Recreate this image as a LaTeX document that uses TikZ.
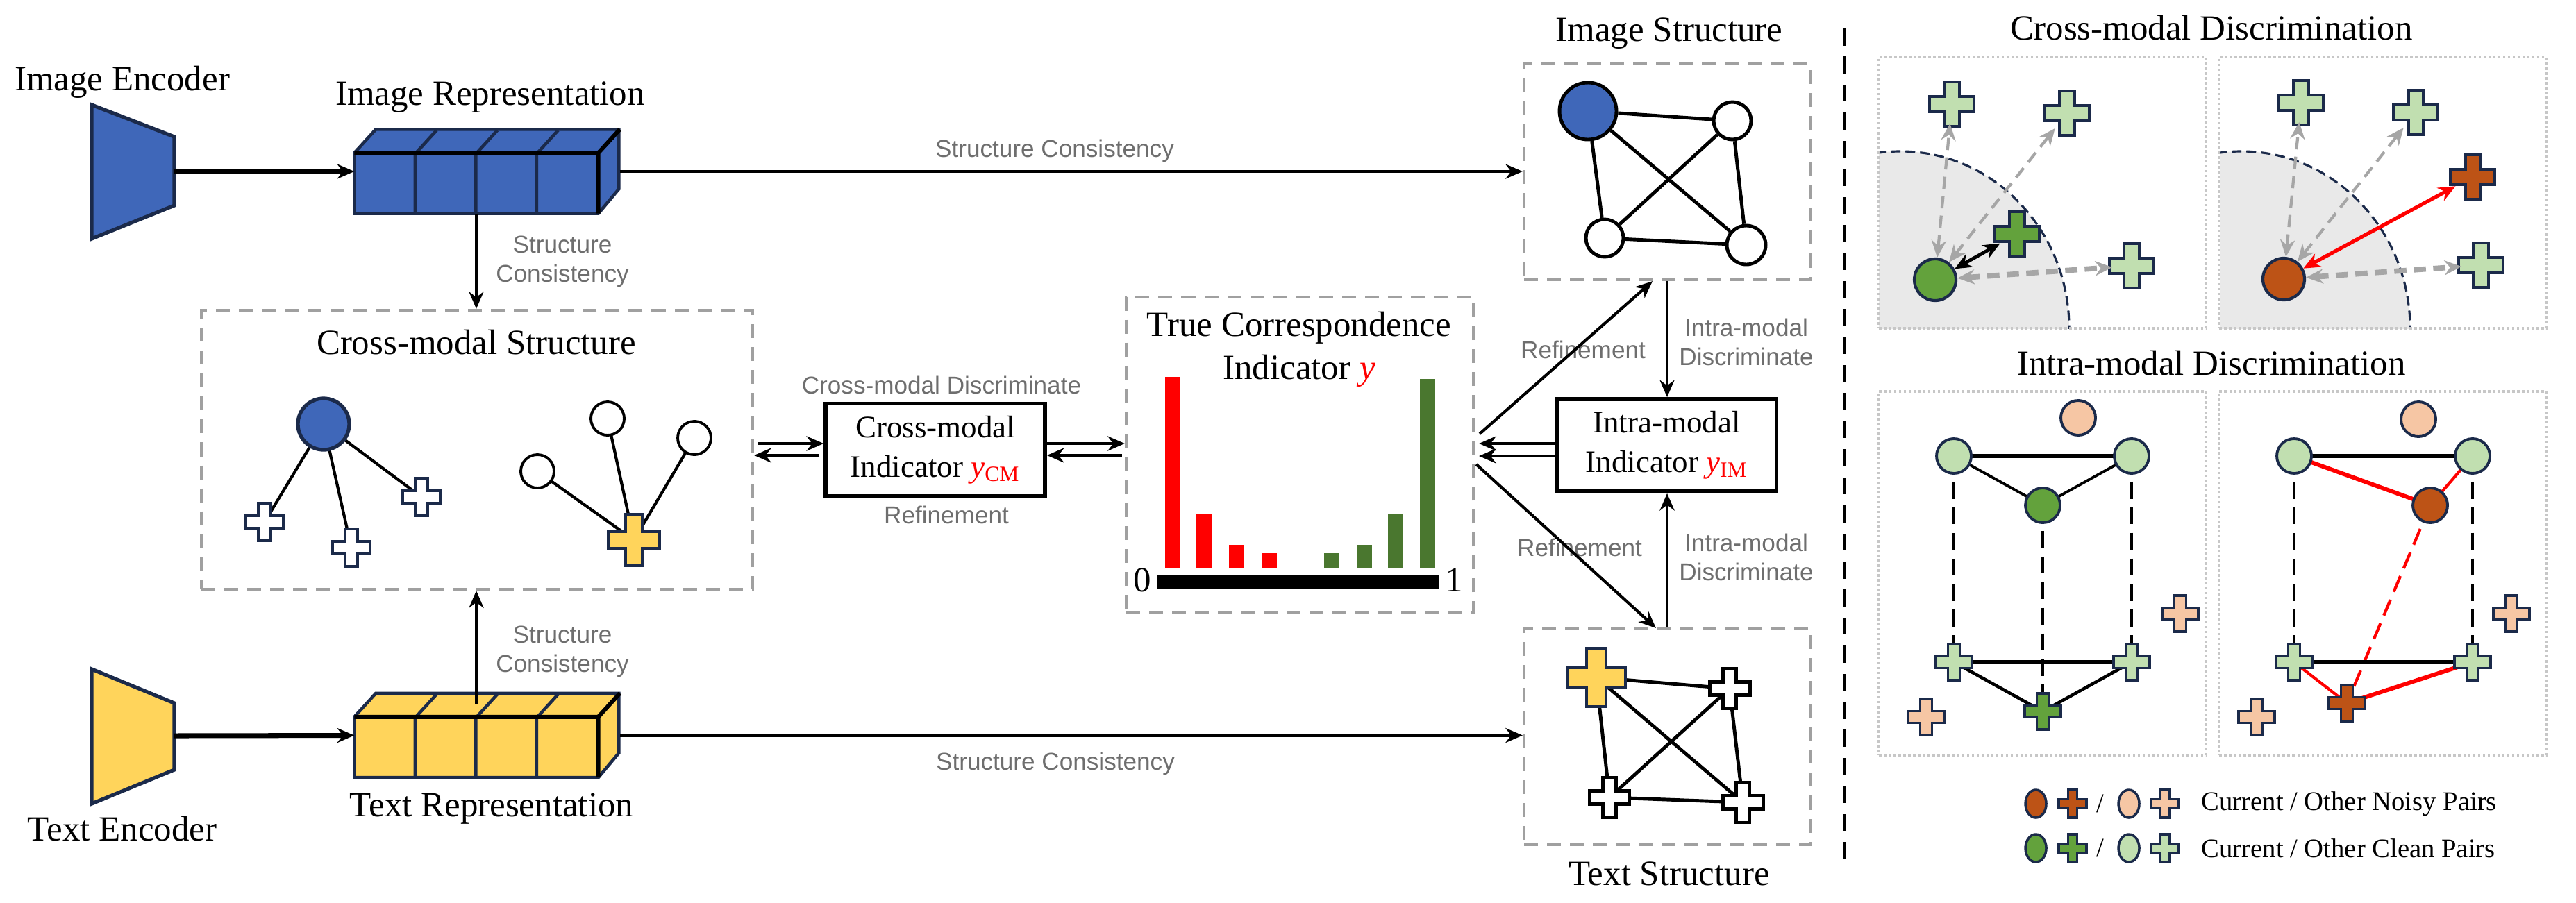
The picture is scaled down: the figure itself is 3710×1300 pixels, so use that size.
\documentclass[tikz,border=0pt]{standalone}
\usepackage{fontspec}
\setmainfont{Liberation Serif}
\newfontfamily\arialfont{Liberation Sans}
\usetikzlibrary{arrows.meta}
\usetikzlibrary{calc,positioning}
\usetikzlibrary{shapes.geometric}

\definecolor{navy}{HTML}{1B2A4A}
\definecolor{imgblue}{HTML}{3F67B9}
\definecolor{txtyellow}{HTML}{FFD45B}
\definecolor{barred}{HTML}{FF0000}
\definecolor{bargreen}{HTML}{4A772F}
\definecolor{cleandark}{HTML}{63A23C}
\definecolor{cleanlight}{HTML}{C1DFB0}
\definecolor{noisydark}{HTML}{BD5316}
\definecolor{noisylight}{HTML}{F6C6A4}
\definecolor{labelgray}{HTML}{6E6E6E}
\definecolor{boxgray}{HTML}{A0A0A0}
\definecolor{shade}{HTML}{E9E9E9}

\pgfdeclarelayer{background}
\pgfsetlayers{background,main}

\tikzset{
    title/.style={font=\fontsize{14.5}{17.6}\selectfont, align=center},
    note/.style={font=\arialfont\fontsize{10}{12}\selectfont, text=labelgray, align=center},
    dashbox/.style={draw=boxgray, line width=1.2pt, dash pattern=on 5.7pt off 3.7pt, inner sep=0pt},
    indbox/.style={draw, line width=1.6pt, minimum width=3.16cm, minimum height=1.33cm, align=center, font=\fontsize{12.8}{16.2}\selectfont},
    panel/.style={draw=black!22, line width=1.1pt, dash pattern=on 1pt off 1pt, inner sep=0pt},
    vtx/.style={circle, draw=navy, line width=1.1pt, inner sep=0pt},
    link/.style={line width=1.2pt},
    flow/.style={->, line width=1.2pt},
    vdash/.style={line width=1.2pt, dash pattern=on 7pt off 3.5pt},
    simarrow/.style={<->, draw=black!35, line width=1.2pt, dash pattern=on 5pt off 3pt},
    legend/.style={font=\fontsize{11}{13}\selectfont, inner sep=0pt, anchor=west}
}

% plus marker: name, position, size, fill, extra options
\newcommand{\plusmark}[5]{%
    \filldraw[fill=#4, draw=navy, line width=1pt, #5, shift={(#2)}, scale=#3]
        (-1/6,-1/2) -- (1/6,-1/2) -- (1/6,-1/6) -- (1/2,-1/6) -- (1/2,1/6) -- (1/6,1/6)
        -- (1/6,1/2) -- (-1/6,1/2) -- (-1/6,1/6) -- (-1/2,1/6) -- (-1/2,-1/6) -- (-1/6,-1/6) -- cycle;
    \node[circle, inner sep=0pt, minimum size=#3*0.085mm] (#1) at (#2) {};
}

% feature vector block: name, front face centre, fill
\newcommand{\featblock}[3]{%
    \node[minimum width=3.5cm, minimum height=0.86cm, inner sep=0pt] (#1) at (#2) {};
    \filldraw[fill=#3, draw=navy, line width=1.3pt]
        (#1.south west) -- (#1.north west) -- ++(31,-34) -- ++(350,0) -- ++(0,86) -- (#1.south east) -- cycle;
    \foreach \i in {1,2,3}
        \draw[navy, line width=1.3pt] ($(#1.south west)+(87.5*\i,0)$) -- ++(0,-86) -- ++(31,-34);
    \draw[line width=1.7pt] (#1.north west) -- (#1.north east) -- ++(31,-34) (#1.north east) -- (#1.south east);
    \coordinate (#1in) at ($(#1.west)+(0,-17)$);
    \coordinate (#1out) at ($(#1.east)+(31,-17)$);
}

\begin{document}
\begin{tikzpicture}[>={Stealth[length=7pt,width=6pt]}, x=0.1mm, y=-0.1mm]

    \useasboundingbox (0,0) rectangle (3710,1300);

    % encoders
    \filldraw[fill=imgblue, draw=navy, line width=1.5pt] (132,151) -- (251,197) -- (251,296) -- (132,344) -- cycle;
    \coordinate (imgenc) at (251,247);
    \filldraw[fill=txtyellow, draw=navy, line width=1.5pt] (132,964) -- (251,1013) -- (251,1109) -- (132,1158) -- cycle;
    \coordinate (txtenc) at (251,1060);
    \node[title] (imgenclbl) at (176,118) {Image Encoder};
    \node[title] (txtenclbl) at (176,1194) {Text Encoder};

    % representations
    \featblock{imgvec}{686,264}{imgblue}
    \featblock{txtvec}{686,1076.5}{txtyellow}
    \node[title] (imgveclbl) at (706,140) {Image Representation};
    \node[title] (txtveclbl) at (708,1165) {Text Representation};
    \draw[->, line width=2pt] (imgenc) -- (imgvecin);
    \draw[->, line width=2pt] (txtenc) -- (txtvecin);

    % cross-modal structure
    \node[dashbox, minimum width=7.94cm, minimum height=4.02cm] (crossstruct) at (687,648) {};
    \node[title] (crosslbl) at (686,493) {Cross-modal Structure};
    \draw[flow] (imgvec.south) -- (imgvec.south |- crossstruct.north);
    \draw[flow] ($(txtvec.north)+(0,-18)$) -- (txtvec.north |- crossstruct.south);
    \node[note] (sc1) at (810,377) {Structure\\Consistency};
    \node[note] (sc2) at (810,939) {Structure\\Consistency};

    \node[vtx, fill=imgblue, line width=1.5pt, minimum size=7.4mm] (cb) at (466,611) {};
    \plusmark{cp1}{381,752}{54}{white}{}
    \plusmark{cp2}{506,789}{54}{white}{}
    \plusmark{cp3}{607,716}{54}{white}{}
    \node[vtx, draw=black, fill=white, minimum size=4.8mm] (cw1) at (875,603) {};
    \node[vtx, draw=black, fill=white, minimum size=4.8mm] (cw2) at (1000,631) {};
    \node[vtx, draw=black, fill=white, minimum size=4.8mm] (cw3) at (774,679) {};
    \plusmark{cy}{913,778}{74}{txtyellow}{line width=1.2pt}
    \begin{pgfonlayer}{background}
        \draw[link] (cb.center) -- (cp1.center) (cb.center) -- (cp2.center) (cb.center) -- (cp3.center);
        \draw[link] (cw1.center) -- (cy.center) (cw2.center) -- (cy.center) (cw3.center) -- (cy.center);
    \end{pgfonlayer}

    % cross-modal indicator
    \node[indbox] (cmind) at (1347,648) {Cross-modal\\Indicator \textcolor{red}{\textit{y}\textsubscript{CM}}};
    \node[note] (cmdisc) at (1356,555) {Cross-modal Discriminate};
    \node[note] (cmref) at (1363,742) {Refinement};

    % true correspondence indicator
    \node[dashbox, minimum width=5cm, minimum height=4.54cm] (truecorr) at (1872,655) {};
    \node[title] (truelbl) at (1871,503) {True Correspondence\\Indicator \textcolor{red}{\textit{y}}};
    \foreach \x/\t in {1678/543, 1723/741, 1770/785, 1817/797}
        \fill[barred] (\x,\t) rectangle (\x+22,818);
    \foreach \x/\t in {1907/797, 1954/785, 1999/741, 2045/546}
        \fill[bargreen] (\x,\t) rectangle (\x+22,818);
    \fill (1666,828) rectangle (2073,848);
    \node[title] (zero) at (1645,836) {0};
    \node[title] (one) at (2094,836) {1};

    \draw[flow] ($(crossstruct.east)+(6,-9)$) -- ($(cmind.west)+(0,-9)$);
    \draw[flow] ($(cmind.west)+(-6,8)$) -- ($(crossstruct.east)+(0,8)$);
    \draw[flow] ($(cmind.east)+(0,-9)$) -- ($(truecorr.west |- cmind.east)+(0,-9)$);
    \draw[flow] ($(truecorr.west |- cmind.east)+(-4,8)$) -- ($(cmind.east)+(0,8)$);

    % image / text structure
    \node[dashbox, minimum width=4.12cm, minimum height=3.11cm] (imgstruct) at (2401,247.5) {};
    \node[dashbox, minimum width=4.12cm, minimum height=3.12cm] (txtstruct) at (2401,1061) {};
    \node[title] (imgstructlbl) at (2404,48) {Image Structure};
    \node[title] (txtstructlbl) at (2404,1259) {Text Structure};
    \draw[flow] (imgvecout) -- (imgstruct.west |- imgvecout);
    \draw[flow] (txtvecout) -- (txtstruct.west |- txtvecout);
    \node[note] (sc3) at (1519,217) {Structure Consistency};
    \node[note] (sc4) at (1520,1100) {Structure Consistency};

    \node[vtx, draw=black, line width=1.4pt, fill=imgblue, minimum size=8.2mm] (ia) at (2287,160) {};
    \node[vtx, draw=black, line width=1.4pt, fill=white, minimum size=5.4mm] (ib) at (2495,174) {};
    \node[vtx, draw=black, line width=1.4pt, fill=white, minimum size=5.4mm] (ic) at (2311,343) {};
    \node[vtx, draw=black, line width=1.4pt, fill=white, minimum size=5.6mm] (id) at (2515,353) {};
    \draw[link, line width=1.4pt] (ia) -- (ib) (ia) -- (ic) (ia) -- (id) (ib) -- (ic) (ib) -- (id) (ic) -- (id);

    \plusmark{ta}{2299,976}{84}{txtyellow}{line width=1.3pt}
    \plusmark{tb}{2491,992}{58}{white}{draw=black, line width=1.4pt}
    \plusmark{tc}{2318,1149}{58}{white}{draw=black, line width=1.4pt}
    \plusmark{td}{2510,1156}{58}{white}{draw=black, line width=1.4pt}
    \begin{pgfonlayer}{background}
        \draw[link, line width=1.4pt] (ta.center) -- (tb.center) (ta.center) -- (tc.center) (ta.center) -- (td.center)
            (tb.center) -- (tc.center) (tb.center) -- (td.center) (tc.center) -- (td.center);
    \end{pgfonlayer}

    % intra-modal indicator
    \node[indbox] (imind) at (2400.5,641.5) {Intra-modal\\Indicator \textcolor{red}{\textit{y}\textsubscript{IM}}};
    \draw[flow] (imgstruct.south) -- (imgstruct.south |- imind.north);
    \draw[flow] (txtstruct.north) -- (txtstruct.north |- imind.south);
    \node[note] (imdisc1) at (2515,493) {Intra-modal\\Discriminate};
    \node[note] (imdisc2) at (2515,803) {Intra-modal\\Discriminate};
    \node[note] (imref1) at (2280,504) {Refinement};
    \node[note] (imref2) at (2275,789) {Refinement};
    \draw[flow] ($(truecorr.east)+(7,-30)$) -- ($(imgstruct.south)+(-21,0)$);
    \draw[flow] ($(truecorr.east)+(2,14)$) -- ($(txtstruct.north)+(-16,2)$);
    \draw[flow] ($(imind.west)+(0,-2.5)$) -- ($(truecorr.east |- imind.west)+(6,-2.5)$);
    \draw[flow] ($(imind.west)+(0,15.5)$) -- ($(truecorr.east |- imind.west)+(6,15.5)$);

    % separator
    \draw[line width=1.1pt, dash pattern=on 7pt off 4.5pt] (2657,41) -- (2657,1253);

    % cross-modal discrimination
    \node[title] (cdlbl) at (3185,40) {Cross-modal Discrimination};
    \foreach \cx in {2737,3228} {
        \begin{scope}
            \clip (\cx-31,82) rectangle (\cx+440,473);
            \filldraw[fill=shade, draw=navy, line width=0.9pt, dash pattern=on 4pt off 2pt]
                (\cx,473) ellipse [x radius=243, y radius=255];
        \end{scope}
    }
    \node[panel, minimum width=4.71cm, minimum height=3.91cm] (cdl) at (2941.5,277.5) {};
    \node[panel, minimum width=4.71cm, minimum height=3.91cm] (cdr) at (3431.5,277.5) {};

    \node[vtx, fill=cleandark, line width=1.2pt, minimum size=6mm] (cg) at (2787,403) {};
    \plusmark{cgp}{2905,337}{64}{cleandark}{line width=1.2pt}
    \plusmark{cl1}{2811,150}{64}{cleanlight}{line width=1.2pt}
    \plusmark{cl2}{2977,163}{64}{cleanlight}{line width=1.2pt}
    \plusmark{cl3}{3070,383}{64}{cleanlight}{line width=1.2pt}
    \draw[simarrow] (cg) -- (cl1);
    \draw[simarrow] (cg) -- (cl2);
    \draw[simarrow, line width=2.2pt] (cg) -- (cl3);
    \draw[<->, line width=1.4pt] (cg) -- (cgp);

    \node[vtx, fill=noisydark, line width=1.2pt, minimum size=6mm] (cn) at (3289,402) {};
    \plusmark{cnp}{3561,255}{64}{noisydark}{line width=1.2pt}
    \plusmark{cm1}{3314,148}{64}{cleanlight}{line width=1.2pt}
    \plusmark{cm2}{3479,162}{64}{cleanlight}{line width=1.2pt}
    \plusmark{cm3}{3573,382}{64}{cleanlight}{line width=1.2pt}
    \draw[simarrow] (cn) -- (cm1);
    \draw[simarrow] (cn) -- (cm2);
    \draw[simarrow, line width=2.2pt] (cn) -- (cm3);
    \draw[<->, red, line width=1.5pt] (cn) -- (cnp);

    % intra-modal discrimination
    \node[title] (idlbl) at (3185,523) {Intra-modal Discrimination};
    \node[panel, minimum width=4.71cm, minimum height=5.24cm] (idl) at (2941.5,826) {};
    \node[panel, minimum width=4.71cm, minimum height=5.24cm] (idr) at (3431.5,826) {};

    \node[vtx, fill=noisylight, minimum size=5mm] (ila) at (2993,602) {};
    \node[vtx, fill=cleanlight, minimum size=5mm] (ilb) at (2814,657) {};
    \node[vtx, fill=cleanlight, minimum size=5mm] (ilc) at (3070,657) {};
    \node[vtx, fill=cleandark, minimum size=5mm] (ild) at (2942,728) {};
    \plusmark{ilp1}{2814,954}{52}{cleanlight}{}
    \plusmark{ilp2}{3070,954}{52}{cleanlight}{}
    \plusmark{ilp3}{2942,1025}{52}{cleandark}{}
    \plusmark{ilq1}{3140,884}{52}{noisylight}{}
    \plusmark{ilq2}{2774,1033}{52}{noisylight}{}
    \begin{pgfonlayer}{background}
        \draw[line width=1.7pt] (ilb.center) -- (ilc.center);
        \draw[line width=1.1pt] (ilb.center) -- (ild.center) -- (ilc.center);
        \draw[vdash] (ilb.center) -- (ilp1.center) (ild.center) -- (ilp3.center) (ilc.center) -- (ilp2.center);
        \draw[line width=1.7pt] (ilp1.center) -- (ilp2.center);
        \draw[line width=1.3pt] (ilp1.center) -- (ilp3.center) -- (ilp2.center);
    \end{pgfonlayer}

    \node[vtx, fill=noisylight, minimum size=5mm] (ira) at (3483,604) {};
    \node[vtx, fill=cleanlight, minimum size=5mm] (irb) at (3304,657) {};
    \node[vtx, fill=cleanlight, minimum size=5mm] (irc) at (3561,657) {};
    \node[vtx, fill=noisydark, minimum size=5mm] (ird) at (3500,728) {};
    \plusmark{irp1}{3304,954}{52}{cleanlight}{}
    \plusmark{irp2}{3561,954}{52}{cleanlight}{}
    \plusmark{irp3}{3380,1013}{52}{noisydark}{}
    \plusmark{irq1}{3617,884}{52}{noisylight}{}
    \plusmark{irq2}{3250,1033}{52}{noisylight}{}
    \begin{pgfonlayer}{background}
        \draw[line width=1.7pt] (irb.center) -- (irc.center);
        \draw[red, line width=1.7pt] (irb.center) -- (ird.center);
        \draw[red, line width=1.2pt] (irc.center) -- (ird.center);
        \draw[vdash] (irb.center) -- (irp1.center) (irc.center) -- (irp2.center);
        \draw[vdash, red] (ird.center) -- (irp3.center);
        \draw[line width=1.7pt] (irp1.center) -- (irp2.center);
        \draw[red, line width=1.2pt] (irp1.center) -- (irp3.center);
        \draw[red, line width=1.7pt] (irp2.center) -- (irp3.center);
    \end{pgfonlayer}

    % legend
    \foreach \y/\dark/\light/\txt in {1158/noisydark/noisylight/Noisy, 1222/cleandark/cleanlight/Clean} {
        \node[ellipse, draw=navy, fill=\dark, line width=1pt, inner sep=0pt, minimum width=3mm, minimum height=4mm] (lgc\txt) at (2932,\y) {};
        \plusmark{lgp\txt}{2985,\y}{40}{\dark}{}
        \node[font=\fontsize{11}{13}\selectfont] (lgs\txt) at (3025,\y) {/};
        \node[ellipse, draw=navy, fill=\light, line width=1pt, inner sep=0pt, minimum width=3mm, minimum height=4mm] (lgo\txt) at (3066,\y) {};
        \plusmark{lgq\txt}{3118,\y}{40}{\light}{}
        \node[legend] (lgt\txt) at (3170,\y) {Current / Other \txt\ Pairs};
    }

\end{tikzpicture}
\end{document}
